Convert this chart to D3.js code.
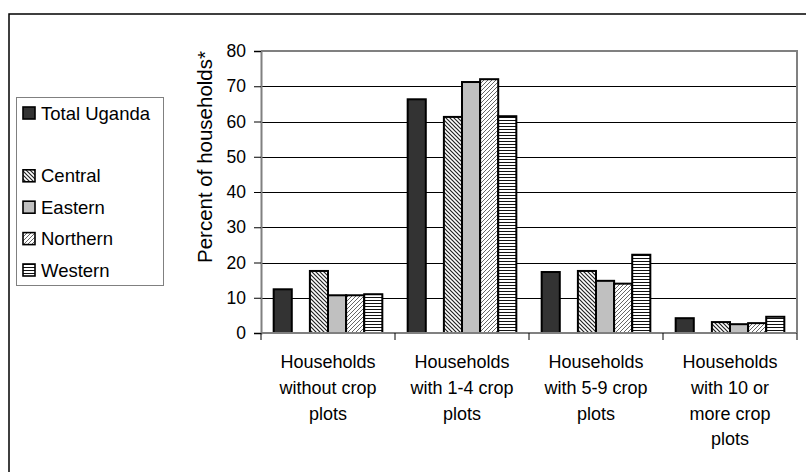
<!DOCTYPE html>
<html>
<head>
<meta charset="utf-8">
<script src="https://cdn.jsdelivr.net/npm/d3@7"></script>
<style>
  html, body { margin: 0; padding: 0; background: #fff; }
  svg { display: block; font-family: "Liberation Sans", Arial, sans-serif; }
</style>
</head>
<body>
<svg id="chart" width="806" height="472"></svg>
<script>
// ---- Data ----
const categories = [
  ["Households", "without crop", "plots"],
  ["Households", "with 1-4 crop", "plots"],
  ["Households", "with 5-9 crop", "plots"],
  ["Households", "with 10 or", "more crop", "plots"]
];
const seriesNames = ["Total Uganda", "", "Central", "Eastern", "Northern", "Western"];
const totalUganda = [12.4, 66.3, 17.3, 4.2];
const blankSeries = [null, null, null, null];
const central  = [17.6, 61.3, 17.6, 3.1];
const eastern  = [10.7, 71.2, 14.8, 2.5];
const northern = [10.7, 72.0, 14.0, 2.8];
const western  = [11.0, 61.5, 22.2, 4.6];
const yTicks = [0, 10, 20, 30, 40, 50, 60, 70, 80];
const yTitle = "Percent of households*";

const seriesValues = [totalUganda, blankSeries, central, eastern, northern, western];

// ---- Layout ----
const svg = d3.select("#chart");
const plot = { left: 261, right: 797, top: 51, bottom: 333 };

// Patterns
const defs = svg.append("defs");
const pC = defs.append("pattern").attr("id", "pat-central").attr("patternUnits", "userSpaceOnUse")
  .attr("width", 4).attr("height", 4);
pC.append("rect").attr("width", 4).attr("height", 4).attr("fill", "#fff");
pC.append("path").attr("d", "M-1,-1 L5,5 M-1,3 L1,5 M3,-1 L5,1").attr("stroke", "#222").attr("stroke-width", 1.2);

const pN = defs.append("pattern").attr("id", "pat-northern").attr("patternUnits", "userSpaceOnUse")
  .attr("width", 4).attr("height", 4);
pN.append("rect").attr("width", 4).attr("height", 4).attr("fill", "#fff");
pN.append("path").attr("d", "M-1,5 L5,-1 M-1,1 L1,-1 M3,5 L5,3").attr("stroke", "#555").attr("stroke-width", 0.9);

const pW = defs.append("pattern").attr("id", "pat-western").attr("patternUnits", "userSpaceOnUse")
  .attr("width", 4).attr("height", 3);
pW.append("rect").attr("width", 4).attr("height", 3).attr("fill", "#fff");
pW.append("rect").attr("y", 0).attr("width", 4).attr("height", 1).attr("fill", "#111");

const fills = ["#333333", "none", "url(#pat-central)", "#c0c0c0", "url(#pat-northern)", "url(#pat-western)"];

// Outer frame (extends past the canvas on right/bottom)
svg.append("rect").attr("x", 9).attr("y", 14).attr("width", 820).attr("height", 480)
  .attr("fill", "none").attr("stroke", "#000").attr("stroke-width", 1.5);

// Scales
const catIdx = categories.map((d, i) => i);
const x0 = d3.scaleBand().domain(catIdx).range([plot.left, plot.right]).paddingInner(0).paddingOuter(0);
const sIdx = seriesNames.map((d, i) => i);
const x1 = d3.scaleBand().domain(sIdx).range([0, x0.bandwidth()]).paddingInner(0).paddingOuter(0.7);
const y = d3.scaleLinear().domain([0, 80]).range([plot.bottom, plot.top]);

// Gridlines
svg.append("g").selectAll("line").data(yTicks.filter(t => t > 0 && t < 80)).join("line")
  .attr("x1", plot.left).attr("x2", plot.right)
  .attr("y1", d => Math.round(y(d)) + 0.5).attr("y2", d => Math.round(y(d)) + 0.5)
  .attr("stroke", "#000").attr("stroke-width", 1);

// Plot frame top/right
svg.append("path")
  .attr("d", `M${plot.left},${y(80)} H${plot.right} V${plot.bottom}`)
  .attr("fill", "none").attr("stroke", "#808080").attr("stroke-width", 2);

// Bars
const gBars = svg.append("g");
seriesValues.forEach((vals, si) => {
  if (seriesNames[si] === "") return;
  gBars.append("g").selectAll("rect").data(vals.map((v, ci) => ({ v, ci }))).join("rect")
    .attr("x", d => x0(d.ci) + x1(si))
    .attr("width", x1.bandwidth())
    .attr("y", d => y(d.v))
    .attr("height", d => y(0) - y(d.v))
    .attr("fill", fills[si])
    .attr("stroke", "#000").attr("stroke-width", 2);
});

// Y axis
const yAxis = svg.append("g").attr("transform", `translate(${plot.left},0)`)
  .call(d3.axisLeft(y).tickValues(yTicks).tickSize(7).tickPadding(8));
yAxis.select(".domain").attr("stroke", "#808080").attr("stroke-width", 2);
yAxis.selectAll(".tick line").attr("stroke", "#000");
yAxis.selectAll(".tick text").attr("font-size", 17.5).attr("fill", "#000")
  .attr("font-family", "Liberation Sans, Arial, sans-serif");

// X axis
const xAxis = svg.append("g").attr("transform", `translate(0,${plot.bottom})`);
xAxis.append("line").attr("x1", plot.left).attr("x2", plot.right).attr("y1", 0).attr("y2", 0)
  .attr("stroke", "#808080").attr("stroke-width", 2);
const bounds = catIdx.map(i => x0(i)).concat([plot.right]);
xAxis.selectAll("line.tk").data(bounds).join("line").attr("class", "tk")
  .attr("x1", d => d).attr("x2", d => d).attr("y1", 0).attr("y2", 7)
  .attr("stroke", "#000").attr("stroke-width", 1);

// Category labels
const labG = svg.append("g");
categories.forEach((lines, ci) => {
  const t = labG.append("text")
    .attr("x", x0(ci) + x0.bandwidth() / 2)
    .attr("y", 368)
    .attr("text-anchor", "middle")
    .attr("font-size", 18).attr("fill", "#000");
  lines.forEach((ln, li) => {
    t.append("tspan").attr("x", x0(ci) + x0.bandwidth() / 2).attr("dy", li === 0 ? 0 : 25.8).text(ln);
  });
});

// Y title
svg.append("text")
  .attr("transform", `translate(212,157) rotate(-90)`)
  .attr("text-anchor", "middle")
  .attr("font-size", 20.5).attr("fill", "#000")
  .text(yTitle);

// Legend
const lg = svg.append("g");
lg.append("rect").attr("x", 16.5).attr("y", 97.5).attr("width", 147).attr("height", 188)
  .attr("fill", "#fff").attr("stroke", "#808080").attr("stroke-width", 1);
seriesNames.forEach((name, i) => {
  if (name === "") return;
  const cy = 113 + i * 31.4;
  lg.append("rect").attr("x", 23).attr("y", cy - 6).attr("width", 12).attr("height", 12)
    .attr("fill", fills[i]).attr("stroke", "#000").attr("stroke-width", 1.6);
  lg.append("text").attr("x", 41).attr("y", cy).attr("dy", "0.36em")
    .attr("font-size", 18.5).attr("fill", "#000").text(name);
});
</script>
</body>
</html>
